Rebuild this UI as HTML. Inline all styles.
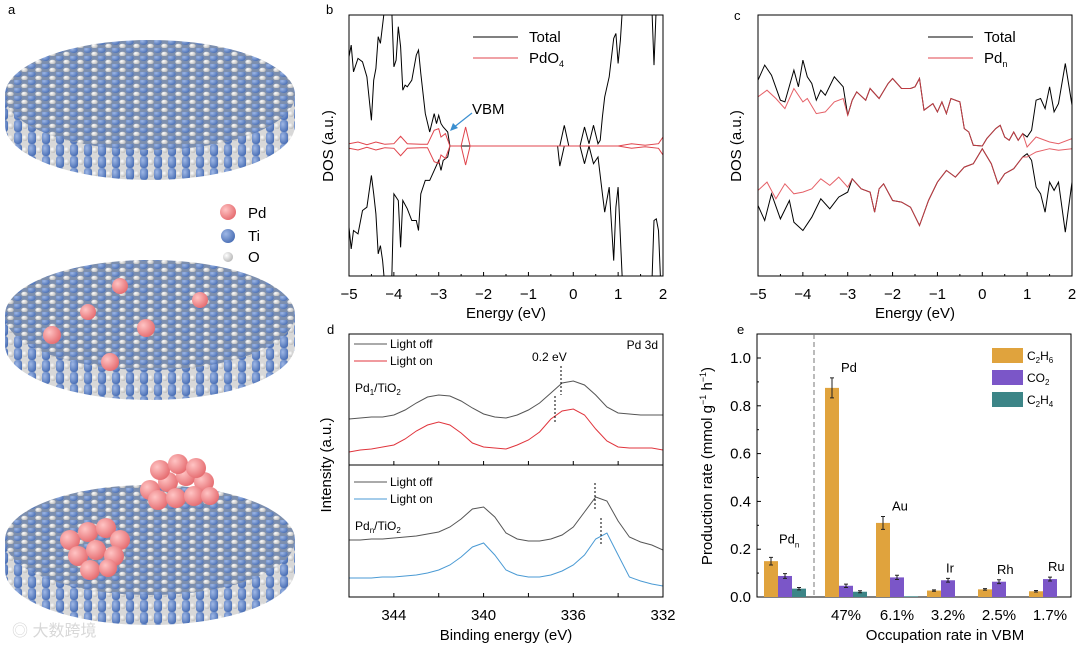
<!DOCTYPE html>
<html><head><meta charset="utf-8"><style>
body{margin:0;background:#fff;}
svg{display:block;font-family:"Liberation Sans","Noto Sans CJK SC",sans-serif;}
</style></head><body>
<svg id="fig" width="1080" height="647" viewBox="0 0 1080 647">
<defs>
<radialGradient id="gBlue" cx="35%" cy="35%" r="70%"><stop offset="0" stop-color="#9fb8e6"/><stop offset="1" stop-color="#4a6fb5"/></radialGradient>
<radialGradient id="gWhite" cx="35%" cy="35%" r="70%"><stop offset="0" stop-color="#ffffff"/><stop offset="1" stop-color="#b8b8b8"/></radialGradient>
<radialGradient id="gPink" cx="35%" cy="35%" r="70%"><stop offset="0" stop-color="#ffc4c4"/><stop offset="1" stop-color="#e56b6f"/></radialGradient>
<pattern id="topPat" width="14" height="8" patternUnits="userSpaceOnUse">
<rect width="14" height="8" fill="#7d8fae"/>
<ellipse cx="3.5" cy="2" rx="4.2" ry="3" fill="url(#gBlue)"/>
<ellipse cx="10.5" cy="6" rx="3.2" ry="2.3" fill="url(#gWhite)"/>
</pattern>
<pattern id="sidePat" width="14" height="12" patternUnits="userSpaceOnUse">
<rect width="14" height="12" fill="#d8d8d8"/>
<rect x="0" y="0" width="8" height="12" rx="3" fill="url(#gBlue)"/>
<circle cx="11" cy="6" r="3" fill="url(#gWhite)"/>
</pattern>
<clipPath id="clipB"><rect x="349" y="15" width="314" height="261"/></clipPath>
<clipPath id="clipC"><rect x="758" y="15" width="314" height="261"/></clipPath>
<clipPath id="clipD"><rect x="349" y="334" width="314" height="263"/></clipPath>
</defs>

<g id="panelA">
<text x="8" y="14" font-size="13">a</text>
<g>
<path d="M5,95 L5,125 A145,55 0 0 0 295,125 L295,95 Z" fill="url(#sidePat)"/>
<ellipse cx="150" cy="95" rx="145" ry="55" fill="url(#topPat)"/>
</g>
<g>
<path d="M5,315 L5,345 A145,55 0 0 0 295,345 L295,315 Z" fill="url(#sidePat)"/>
<ellipse cx="150" cy="315" rx="145" ry="55" fill="url(#topPat)"/>
<circle cx="120" cy="286" r="8" fill="url(#gPink)"/>
<circle cx="200" cy="300" r="8" fill="url(#gPink)"/>
<circle cx="88" cy="312" r="8" fill="url(#gPink)"/>
<circle cx="146" cy="328" r="9" fill="url(#gPink)"/>
<circle cx="52" cy="335" r="9" fill="url(#gPink)"/>
<circle cx="110" cy="362" r="9" fill="url(#gPink)"/>
</g>
<g>
<path d="M5,540 L5,570 A145,55 0 0 0 295,570 L295,540 Z" fill="url(#sidePat)"/>
<ellipse cx="150" cy="540" rx="145" ry="55" fill="url(#topPat)"/>
<g fill="url(#gPink)">
<circle cx="150" cy="490" r="10"/><circle cx="168" cy="482" r="10"/><circle cx="186" cy="476" r="10"/><circle cx="204" cy="482" r="10"/>
<circle cx="160" cy="470" r="10"/><circle cx="178" cy="464" r="10"/><circle cx="196" cy="468" r="10"/>
<circle cx="158" cy="500" r="10"/><circle cx="176" cy="498" r="10"/><circle cx="194" cy="496" r="10"/><circle cx="210" cy="496" r="9"/>
<circle cx="70" cy="540" r="10"/><circle cx="88" cy="532" r="10"/><circle cx="106" cy="528" r="10"/><circle cx="120" cy="540" r="10"/>
<circle cx="78" cy="556" r="10"/><circle cx="96" cy="550" r="10"/><circle cx="114" cy="556" r="10"/><circle cx="90" cy="570" r="10"/><circle cx="108" cy="568" r="9"/>
</g>
</g>
<g>
<circle cx="228" cy="212" r="8" fill="url(#gPink)"/><text x="248" y="218" font-size="15">Pd</text>
<circle cx="228" cy="236" r="7" fill="url(#gBlue)"/><text x="248" y="241" font-size="15">Ti</text>
<circle cx="228" cy="257" r="5" fill="url(#gWhite)"/><text x="248" y="262" font-size="15">O</text>
</g>
<text x="12" y="636" font-size="16" fill="#d8d8d8">◎ 大数跨境</text>
</g>

<g id="panelB"></g>
<g id="panelC"></g>
<g id="panelD"></g>
<g id="panelE"></g>
</svg>

<script>
const bEnergyUp = [-5,-4.95,-4.9,-4.8,-4.7,-4.6,-4.5,-4.45,-4.4,-4.35,-4.3,-4.2,-4.1,-4.05,-4.0,-3.95,-3.9,-3.85,-3.8,-3.75,-3.7,-3.6,-3.5,-3.45,-3.4,-3.3,-3.2,-3.1,-3.05,-3.0,-2.95,-2.9,-2.8,-2.75,-0.3,-0.2,-0.1,0.15,0.25,0.35,0.45,0.55,0.6,0.65,0.7,0.8,0.9,0.95,1.0,1.05,1.1,1.75,1.8,1.85,2.0];
const bTotalUp = [267,302,222,262,252,207,77,197,232,327,307,420,420,420,237,257,357,297,167,182,177,197,272,287,217,97,42,97,67,92,67,57,42,0,0,62,0,0,57,7,62,7,17,87,147,207,322,337,247,317,420,420,242,420,420];
const bEnergyDn = [-5,-4.95,-4.9,-4.8,-4.7,-4.6,-4.5,-4.45,-4.4,-4.35,-4.3,-4.25,-4.2,-4.05,-4.0,-3.9,-3.85,-3.8,-3.7,-3.6,-3.5,-3.45,-3.4,-3.3,-3.2,-3.1,-3.0,-2.95,-2.9,-2.8,-2.75,-0.35,-0.3,-0.2,0.15,0.25,0.35,0.45,0.55,0.65,0.7,0.8,0.9,0.95,1.0,1.1,1.75,1.8,1.85,1.9,1.95,2.0];
const bTotalDn = [-243,-308,-253,-263,-193,-183,-88,-143,-203,-323,-298,-343,-420,-420,-143,-163,-303,-163,-188,-223,-223,-253,-143,-103,-103,-73,-43,-73,-43,-33,0,0,-60,0,0,-53,0,-53,-33,-143,-198,-123,-343,-183,-123,-420,-420,-223,-218,-253,-420,-420];
const bEnergyPd = [-5,-4.8,-4.6,-4.4,-4.2,-4.0,-3.85,-3.7,-3.4,-3.25,-3.1,-3.0,-2.95,-2.85,-2.75,-2.5,-2.4,-2.3,1.0,1.3,1.6,1.9,2.0];
const bPdO4 = [7,12,4,12,5,7,29,7,5,5,47,52,27,37,0,0,57,0,0,7,2,7,27];
const bXTicks = [-5,-4,-3,-2,-1,0,1,2];

const cEnergyUp = [-5,-4.85,-4.7,-4.5,-4.4,-4.2,-4.1,-4.0,-3.9,-3.8,-3.7,-3.6,-3.5,-3.3,-3.1,-3.0,-2.9,-2.8,-2.6,-2.5,-2.3,-2.1,-2.0,-1.8,-1.6,-1.5,-1.4,-1.3,-1.1,-1.0,-0.9,-0.8,-0.7,-0.5,-0.4,-0.3,-0.2,0,0.1,0.3,0.4,0.5,0.6,0.7,0.8,0.9,1.0,1.1,1.2,1.3,1.4,1.5,1.6,1.7,1.85,2.0];
const cTotalUp = [197,242,212,137,132,227,177,257,207,187,137,167,152,207,177,92,137,162,137,172,142,187,202,172,172,177,202,107,127,102,132,97,142,132,52,42,2,0,22,52,62,27,17,42,17,37,27,47,137,142,112,177,102,127,247,122];
const cEnergyPdUp = [-5,-4.8,-4.6,-4.4,-4.2,-4.0,-3.9,-3.7,-3.5,-3.3,-3.1,-3.0,-2.9,-2.8,-2.6,-2.5,-2.3,-2.1,-2.0,-1.8,-1.6,-1.5,-1.4,-1.3,-1.1,-1.0,-0.9,-0.8,-0.7,-0.5,-0.4,-0.3,-0.2,0,0.1,0.3,0.4,0.5,0.6,0.7,0.8,0.9,1.0,1.2,1.5,1.7,2.0];
const cPdUp = [147,167,142,112,172,132,142,97,102,132,142,92,137,162,137,172,142,187,202,172,172,177,202,107,127,102,132,97,142,132,52,42,2,0,22,52,62,27,17,42,17,37,-3,27,12,7,22];
const cEnergyDn = [-5,-4.85,-4.7,-4.5,-4.3,-4.2,-4.0,-3.8,-3.6,-3.4,-3.2,-3.0,-2.9,-2.7,-2.5,-2.4,-2.3,-2.2,-2.0,-1.8,-1.6,-1.4,-1.2,-1.0,-0.8,-0.6,-0.4,-0.2,0,0.2,0.35,0.5,0.7,0.9,1.0,1.1,1.2,1.3,1.4,1.5,1.6,1.7,1.85,2.0];
const cTotalDn = [-178,-223,-143,-218,-163,-228,-253,-213,-158,-188,-153,-138,-98,-128,-138,-198,-128,-113,-163,-168,-183,-238,-163,-108,-73,-93,-63,-53,-8,-53,-113,-83,-68,-33,-23,-43,-123,-143,-198,-108,-133,-108,-258,-108];
const cEnergyPdDn = [-5,-4.8,-4.6,-4.4,-4.2,-4.0,-3.8,-3.6,-3.4,-3.2,-3.0,-2.9,-2.7,-2.5,-2.4,-2.3,-2.2,-2.0,-1.8,-1.6,-1.4,-1.2,-1.0,-0.8,-0.6,-0.4,-0.2,0,0.2,0.35,0.5,0.7,0.9,1.0,1.2,1.5,1.7,2.0];
const cPdDn = [-133,-108,-158,-113,-143,-138,-128,-98,-118,-93,-123,-98,-128,-138,-198,-128,-113,-163,-168,-183,-238,-163,-108,-73,-93,-63,-53,-8,-53,-113,-83,-68,-33,-33,-18,-8,-13,-8];

const dEnergy = [346,345.5,345,344.5,344,343.5,343,342.5,342,341.5,341,340.5,340,339.5,339,338.5,338,337.5,337,336.5,336,335.5,335,334.5,334,333.5,333,332.5,332];
const dPd1Off = [46,47,48,48,50,55,62,68,70,69,64,57,51,48,47,50,55,62,72,82,84,80,70,58,52,51,50,50,50];
const dPd1On = [13,15,16,18,20,26,34,40,43,40,32,22,18,17,16,20,25,33,46,54,56,50,36,24,18,17,17,17,15];
const dPdnOff = [57,57,58,58,59,60,61,63,65,70,78,88,90,80,64,58,56,56,58,62,70,85,100,96,76,60,55,52,47];
const dPdnOn = [19,19,19,20,20,21,22,24,27,32,40,50,54,42,27,22,20,20,22,26,32,42,58,64,42,20,16,13,11];
const dXTicks = [344,340,336,332];

const eCategories = ["", "47%", "6.1%", "3.2%", "2.5%", "1.7%"];
const eMetals = ["Pdn", "Pd", "Au", "Ir", "Rh", "Ru"];
const eC2H6 = [0.150, 0.875, 0.310, 0.027, 0.032, 0.024];
const eC2H6Err = [0.016, 0.042, 0.027, 0.003, 0.003, 0.003];
const eCO2 = [0.088, 0.047, 0.082, 0.070, 0.064, 0.075];
const eCO2Err = [0.010, 0.007, 0.009, 0.008, 0.008, 0.008];
const eC2H4 = [0.035, 0.022, 0.003, 0, 0, 0];
const eC2H4Err = [0.005, 0.004, 0, 0, 0, 0];
const eYTicks = [0.0, 0.2, 0.4, 0.6, 0.8, 1.0];

const NS = "http://www.w3.org/2000/svg";
function mk(parent, tag, attrs, text) {
  const el = document.createElementNS(NS, tag);
  for (const k in attrs) el.setAttribute(k, attrs[k]);
  if (text !== undefined) el.textContent = text;
  parent.appendChild(el);
  return el;
}
function pathFrom(xs, ys, sx, sy) {
  return xs.map((x, i) => (i ? "L" : "M") + sx(x).toFixed(1) + "," + sy(ys[i]).toFixed(1)).join(" ");
}
function frame(g, x0, y0, w, h) {
  const r = mk(g, "rect", {x: x0, y: y0, width: w, height: h, fill: "none", stroke: "#000", "stroke-width": 1});
  
  
}

(function () {
  const g = document.getElementById("panelB");
  const X0 = 349, X1 = 663, Y0 = 15, Y1 = 276, YC = 146;
  const sx = e => X0 + (e + 5) / 7 * (X1 - X0);
  const sy = v => YC - v * 131 / 392;
  const lbl = mk(g, "text", {x: 326, y: 14, "font-size": 13}, "b");
  
  
  const cg = mk(g, "g", {"clip-path": "url(#clipB)"});
  const p1 = mk(cg, "path", {d: pathFrom(bEnergyUp, bTotalUp, sx, sy), fill: "none", stroke: "#000", "stroke-width": 1});
  
  
  const p2 = mk(cg, "path", {d: pathFrom(bEnergyDn, bTotalDn, sx, sy), fill: "none", stroke: "#000", "stroke-width": 1});
  
  
  const p3 = mk(cg, "path", {d: pathFrom(bEnergyPd, bPdO4, sx, sy), fill: "none", stroke: "#e0444c", "stroke-width": 1});
  
  
  const p4 = mk(cg, "path", {d: pathFrom(bEnergyPd, bPdO4.map(v => -v), sx, sy), fill: "none", stroke: "#e0444c", "stroke-width": 1});
  
  
  frame(g, X0, Y0, X1 - X0, Y1 - Y0);
  bXTicks.forEach(t => {
    mk(g, "line", {x1: sx(t), x2: sx(t), y1: Y1, y2: Y1 - 4, stroke: "#000"});
    if (t < 2) mk(g, "line", {x1: sx(t + 0.5), x2: sx(t + 0.5), y1: Y1, y2: Y1 - 2, stroke: "#000"});
    const tl = mk(g, "text", {x: sx(t), y: 299, "font-size": 15, "text-anchor": "middle"}, t < 0 ? "\u2212" + (-t) : String(t));
    
    
  });
  const xt = mk(g, "text", {x: 506, y: 318, "font-size": 15, "text-anchor": "middle"}, "Energy (eV)");
  
  
  const yt = mk(g, "text", {x: 0, y: 0, "font-size": 15, "text-anchor": "middle", transform: "translate(333,146) rotate(-90)"}, "DOS (a.u.)");
  
  
  const lg = mk(g, "g", {});
  
  
  mk(lg, "line", {x1: 473, x2: 518, y1: 37, y2: 37, stroke: "#000"});
  mk(lg, "text", {x: 529, y: 42, "font-size": 15}, "Total");
  mk(lg, "line", {x1: 473, x2: 518, y1: 58, y2: 58, stroke: "#e0444c"});
  const t2 = mk(lg, "text", {x: 529, y: 63, "font-size": 15}, "PdO");
  mk(t2, "tspan", {"font-size": 9, dy: 4}, "4");
  const ann = mk(g, "g", {});
  
  
  mk(ann, "text", {x: 472, y: 114, "font-size": 15}, "VBM");
  mk(ann, "line", {x1: 472, y1: 113, x2: 453, y2: 128, stroke: "#3b8fd0", "stroke-width": 1.2});
  mk(ann, "path", {d: "M450,131 L453,123 L458,128 Z", fill: "#3b8fd0"});
})();

(function () {
  const g = document.getElementById("panelC");
  const X0 = 758, X1 = 1072, Y0 = 15, Y1 = 276, YC = 146;
  const sx = e => X0 + (e + 5) / 7 * (X1 - X0);
  const sy = v => YC - v * 131 / 392;
  const lbl = mk(g, "text", {x: 734, y: 20, "font-size": 13}, "c");
  
  
  const cg = mk(g, "g", {"clip-path": "url(#clipC)"});
  const p1 = mk(cg, "path", {d: pathFrom(cEnergyUp, cTotalUp, sx, sy), fill: "none", stroke: "#000", "stroke-width": 1});
  
  
  const p2 = mk(cg, "path", {d: pathFrom(cEnergyDn, cTotalDn, sx, sy), fill: "none", stroke: "#000", "stroke-width": 1});
  
  
  const p3 = mk(cg, "path", {d: pathFrom(cEnergyPdUp, cPdUp, sx, sy), fill: "none", stroke: "#e0444c", "stroke-width": 1, "stroke-opacity": 0.85});
  
  
  const p4 = mk(cg, "path", {d: pathFrom(cEnergyPdDn, cPdDn, sx, sy), fill: "none", stroke: "#e0444c", "stroke-width": 1, "stroke-opacity": 0.85});
  
  
  frame(g, X0, Y0, X1 - X0, Y1 - Y0);
  bXTicks.forEach(t => {
    mk(g, "line", {x1: sx(t), x2: sx(t), y1: Y1, y2: Y1 - 4, stroke: "#000"});
    if (t < 2) mk(g, "line", {x1: sx(t + 0.5), x2: sx(t + 0.5), y1: Y1, y2: Y1 - 2, stroke: "#000"});
    const tl = mk(g, "text", {x: sx(t), y: 299, "font-size": 15, "text-anchor": "middle"}, t < 0 ? "\u2212" + (-t) : String(t));
    
    
  });
  const xt = mk(g, "text", {x: 915, y: 318, "font-size": 15, "text-anchor": "middle"}, "Energy (eV)");
  
  
  const yt = mk(g, "text", {x: 0, y: 0, "font-size": 15, "text-anchor": "middle", transform: "translate(741,146) rotate(-90)"}, "DOS (a.u.)");
  
  
  const lg = mk(g, "g", {});
  
  
  mk(lg, "line", {x1: 928, x2: 973, y1: 37, y2: 37, stroke: "#000"});
  mk(lg, "text", {x: 984, y: 42, "font-size": 15}, "Total");
  mk(lg, "line", {x1: 928, x2: 973, y1: 58, y2: 58, stroke: "#e0444c"});
  const t2 = mk(lg, "text", {x: 984, y: 63, "font-size": 15}, "Pd");
  mk(t2, "tspan", {"font-size": 9, dy: 4}, "n");
})();

(function () {
  const g = document.getElementById("panelD");
  const X0 = 349, X1 = 663, Y0 = 334, Y1 = 597, YM = 465;
  const sx = e => X0 + (346 - e) / 14 * (X1 - X0);
  const syTop = v => 465 - v;
  const syBot = v => 597 - v;
  const lbl = mk(g, "text", {x: 327, y: 334, "font-size": 13}, "d");
  
  
  const cg = mk(g, "g", {"clip-path": "url(#clipD)"});
  const series = [
    [dPd1Off, syTop, "#555", "pd1-light-off"],
    [dPd1On, syTop, "#e0343c", "pd1-light-on"],
    [dPdnOff, syBot, "#555", "pdn-light-off"],
    [dPdnOn, syBot, "#4a9ad4", "pdn-light-on"]
  ];
  series.forEach(s => {
    const p = mk(cg, "path", {d: pathFrom(dEnergy, s[0], sx, s[1]), fill: "none", stroke: s[2], "stroke-width": 1});
    
    
  });
  frame(g, X0, Y0, X1 - X0, Y1 - Y0);
  mk(g, "line", {x1: X0, x2: X1, y1: YM, y2: YM, stroke: "#000"});
  for (let e = 346; e >= 332; e -= 2) {
    mk(g, "line", {x1: sx(e), x2: sx(e), y1: Y1, y2: Y1 - 4, stroke: "#000"});
    mk(g, "line", {x1: sx(e), x2: sx(e), y1: YM, y2: YM - 4, stroke: "#000"});
  }
  dXTicks.forEach(t => {
    const tl = mk(g, "text", {x: sx(t), y: 620, "font-size": 15, "text-anchor": "middle"}, String(t));
    
    
  });
  const xt = mk(g, "text", {x: 506, y: 640, "font-size": 15, "text-anchor": "middle"}, "Binding energy (eV)");
  
  
  const yt = mk(g, "text", {x: 0, y: 0, "font-size": 15, "text-anchor": "middle", transform: "translate(331,465) rotate(-90)"}, "Intensity (a.u.)");
  
  
  const lg1 = mk(g, "g", {});
  
  
  mk(lg1, "line", {x1: 354, x2: 387, y1: 344, y2: 344, stroke: "#555"});
  mk(lg1, "text", {x: 390, y: 348, "font-size": 12}, "Light off");
  mk(lg1, "line", {x1: 354, x2: 387, y1: 361, y2: 361, stroke: "#e0343c"});
  mk(lg1, "text", {x: 390, y: 365, "font-size": 12}, "Light on");
  const s1 = mk(g, "text", {x: 355, y: 392, "font-size": 12}, "Pd");
  mk(s1, "tspan", {"font-size": 8, dy: 3}, "1");
  mk(s1, "tspan", {dy: -3}, "/TiO");
  mk(s1, "tspan", {"font-size": 8, dy: 3}, "2");
  
  
  const lg2 = mk(g, "g", {});
  
  
  mk(lg2, "line", {x1: 354, x2: 387, y1: 482, y2: 482, stroke: "#555"});
  mk(lg2, "text", {x: 390, y: 486, "font-size": 12}, "Light off");
  mk(lg2, "line", {x1: 354, x2: 387, y1: 499, y2: 499, stroke: "#4a9ad4"});
  mk(lg2, "text", {x: 390, y: 503, "font-size": 12}, "Light on");
  const s2 = mk(g, "text", {x: 355, y: 530, "font-size": 12}, "Pd");
  mk(s2, "tspan", {"font-size": 8, dy: 3}, "n");
  mk(s2, "tspan", {dy: -3}, "/TiO");
  mk(s2, "tspan", {"font-size": 8, dy: 3}, "2");
  
  
  const t3 = mk(g, "text", {x: 658, y: 349, "font-size": 12, "text-anchor": "end"}, "Pd 3d");
  
  
  const t4 = mk(g, "text", {x: 532, y: 361, "font-size": 12}, "0.2 eV");
  
  
  [[561, 366, 395], [555, 396, 424], [595, 483, 510], [601, 518, 545]].forEach(l => {
    const ln = mk(g, "line", {x1: l[0], x2: l[0], y1: l[1], y2: l[2], stroke: "#000", "stroke-dasharray": "2,2"});
    
    
  });
})();

(function () {
  const g = document.getElementById("panelE");
  const X0 = 757, X1 = 1071, Y0 = 334, Y1 = 597;
  const sy = v => Y1 - v * 239;
  const groupStart = i => i === 0 ? 764 : 825 + (i - 1) * 51;
  const BW = 14;
  const lbl = mk(g, "text", {x: 737, y: 334, "font-size": 13}, "e");
  
  
  frame(g, X0, Y0, X1 - X0, Y1 - Y0);
  const dl = mk(g, "line", {x1: 814, x2: 814, y1: Y0, y2: Y1, stroke: "#777", "stroke-dasharray": "5,3"});
  
  
  const series = [[eC2H6, eC2H6Err, "#e0a33d", "c2h6"], [eCO2, eCO2Err, "#7b56c8", "co2"], [eC2H4, eC2H4Err, "#3c8587", "c2h4"]];
  series.forEach((s, si) => {
    s[0].forEach((v, i) => {
      const x = groupStart(i) + si * BW;
      const r = mk(g, "rect", {x: x, y: sy(v), width: BW, height: Y1 - sy(v), fill: s[2]});
      
      
      if (s[1][i] > 0) {
        const cx = x + BW / 2;
        const eb = mk(g, "path", {d: `M${cx},${sy(v + s[1][i])} V${sy(v - s[1][i])} M${cx - 2},${sy(v + s[1][i])} h4 M${cx - 2},${sy(v - s[1][i])} h4`, stroke: "#222", "stroke-width": 1, fill: "none"});
        
        
      }
    });
  });
  const labels = ["Pd", "Pd", "Au", "Ir", "Rh", "Ru"];
  eMetals.forEach((m, i) => {
    const top = Math.max(eC2H6[i] + eC2H6Err[i], eCO2[i] + eCO2Err[i]);
    const x = i === 0 ? groupStart(i) + 15 : (i <= 2 ? groupStart(i) + 16 : groupStart(i) + 19);
    const t = mk(g, "text", {x: x, y: sy(top) - (i === 0 ? 14 : 6), "font-size": 13}, labels[i]);
    if (i === 0) mk(t, "tspan", {"font-size": 8, dy: 4}, "n");
    
    
  });
  eYTicks.forEach(t => {
    mk(g, "line", {x1: X0, x2: X0 + 4, y1: sy(t), y2: sy(t), stroke: "#000"});
    if (t < 1) mk(g, "line", {x1: X0, x2: X0 + 2, y1: sy(t + 0.1), y2: sy(t + 0.1), stroke: "#000"});
    const tl = mk(g, "text", {x: 751, y: sy(t) + 5, "font-size": 15, "text-anchor": "end"}, t.toFixed(1));
    
    
  });
  eCategories.forEach((c, i) => {
    if (!c) return;
    const tl = mk(g, "text", {x: groupStart(i) + 21, y: 620, "font-size": 15, "text-anchor": "middle"}, c);
    
    
  });
  const xt = mk(g, "text", {x: 945, y: 640, "font-size": 15, "text-anchor": "middle"}, "Occupation rate in VBM");
  
  
  const yt = mk(g, "text", {x: 0, y: 0, "font-size": 15, "text-anchor": "middle", transform: "translate(712,466) rotate(-90)"});
  
  
  yt.innerHTML = 'Production rate (mmol g<tspan font-size="9" dy="-6">\u22121</tspan><tspan dy="6"> h</tspan><tspan font-size="9" dy="-6">\u22121</tspan><tspan dy="6">)</tspan>';
  const lg = mk(g, "g", {});
  
  
  [["C", "2", "H", "6", "#e0a33d"], ["CO", "2", "", "", "#7b56c8"], ["C", "2", "H", "4", "#3c8587"]].forEach((l, i) => {
    const y = 348 + i * 22;
    mk(lg, "rect", {x: 992, y: y, width: 31, height: 15, fill: l[4]});
    const t = mk(lg, "text", {x: 1027, y: y + 12, "font-size": 12}, l[0]);
    mk(t, "tspan", {"font-size": 8, dy: 3}, l[1]);
    if (l[2]) { mk(t, "tspan", {dy: -3}, l[2]); mk(t, "tspan", {"font-size": 8, dy: 3}, l[3]); }
  });
})();
</script>
</body></html>
